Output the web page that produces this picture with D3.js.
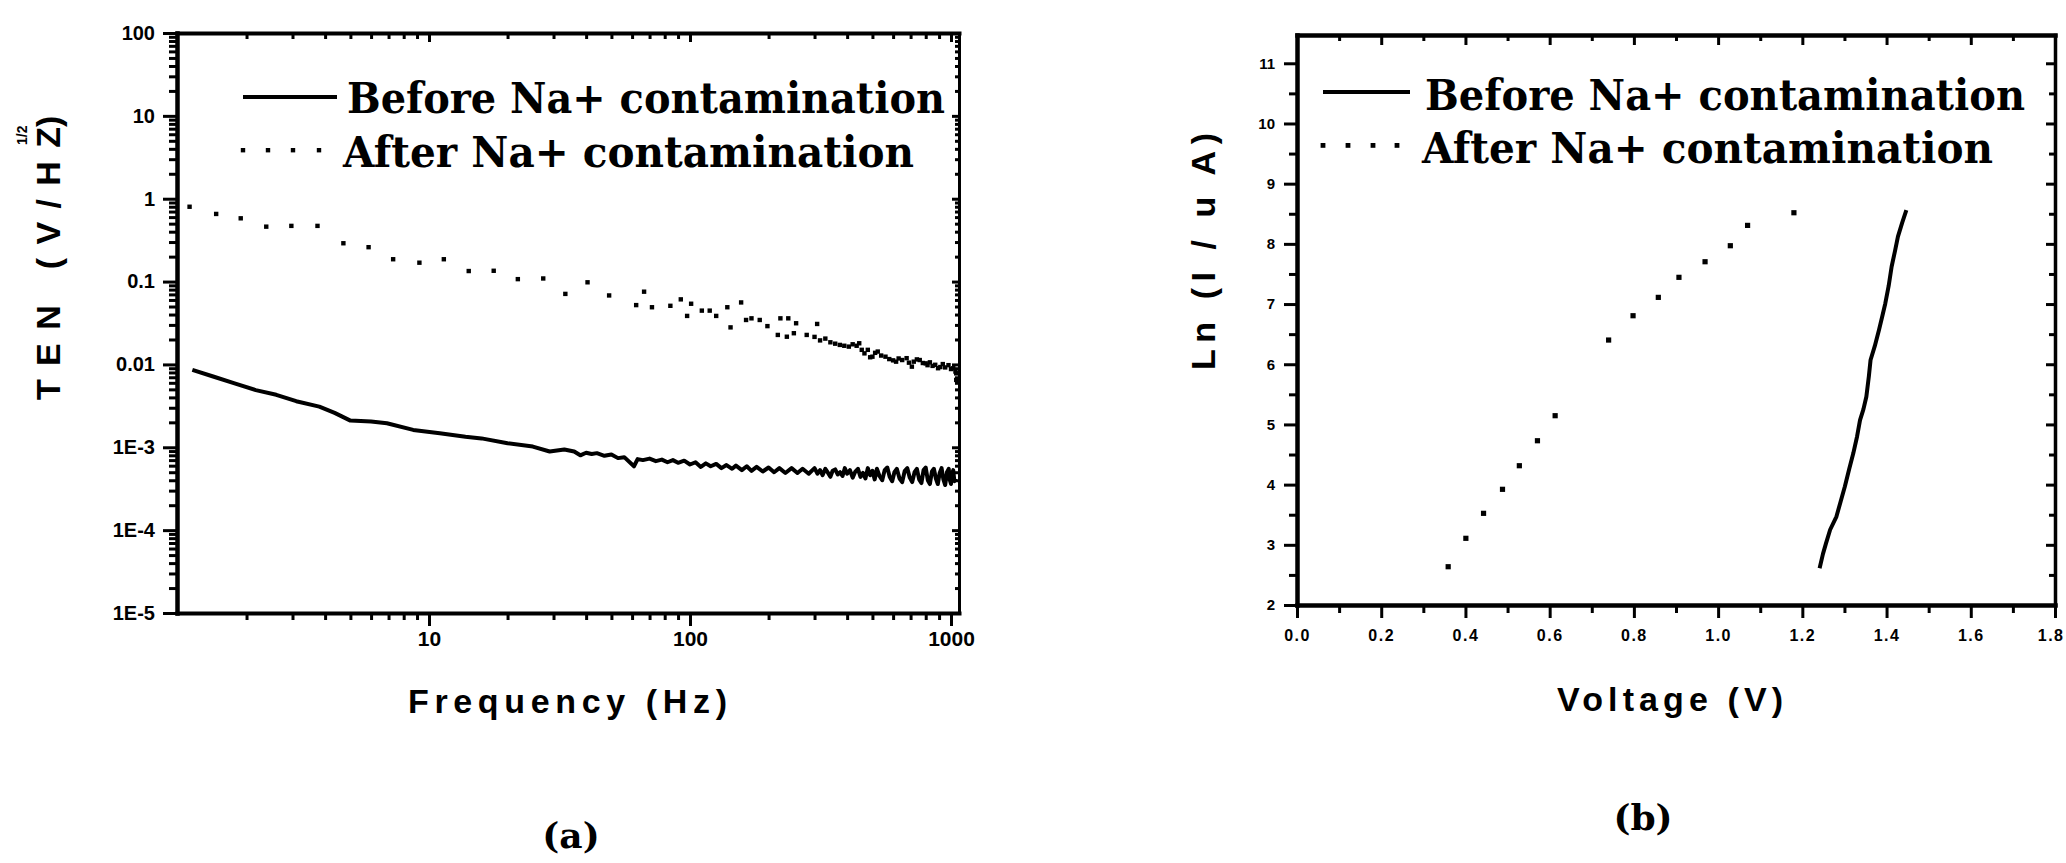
<!DOCTYPE html>
<html>
<head>
<meta charset="utf-8">
<script src="https://cdn.jsdelivr.net/npm/d3@7"></script>
<style>
  html, body { margin: 0; padding: 0; background: #fff; }
  svg { display: block; }
</style>
</head>
<body>
<svg id="fig" width="2066" height="863"></svg>
<script>
// ---------- data ----------
const legendLabels = ["Before Na+ contamination", "After Na+ contamination"];

// (a) total equivalent noise vs frequency, [Hz, V/Hz^1/2]
const tenBefore = [
  [1.24, 8.6e-3], [1.5, 7.1e-3], [1.8, 5.9e-3], [2.17, 4.9e-3], [2.6, 4.3e-3],
  [3.1, 3.6e-3], [3.8, 3.1e-3], [4.35, 2.6e-3], [5.0, 2.1e-3], [6.0, 2.05e-3],
  [6.9, 1.95e-3], [8.7, 1.62e-3], [11.0, 1.48e-3], [13.8, 1.34e-3], [15.9, 1.28e-3],
  [20, 1.12e-3], [25, 1.02e-3], [29, 8.9e-4], [33, 9.4e-4], [36, 8.9e-4],
  [38, 8.0e-4], [40, 8.6e-4], [42, 8.3e-4], [44, 8.5e-4], [47, 7.9e-4],
  [50, 8.2e-4], [53, 7.4e-4], [56, 7.6e-4], [61, 5.9e-4], [63, 7.2e-4],
  [66, 7.0e-4], [70, 7.3e-4], [74, 6.8e-4], [78, 7.1e-4], [82, 6.6e-4],
  [86, 7.0e-4], [90, 6.5e-4], [95, 6.9e-4], [100, 6.2e-4], [105, 6.6e-4],
  [110, 5.8e-4], [115, 6.4e-4], [120, 5.9e-4], [126, 6.3e-4], [132, 5.6e-4],
  [138, 6.1e-4], [145, 5.5e-4], [150, 6.0e-4], [158, 5.3e-4], [165, 5.9e-4],
  [172, 5.2e-4], [180, 5.8e-4], [190, 5.1e-4], [200, 5.7e-4], [210, 5.0e-4],
  [220, 5.6e-4], [232, 4.9e-4], [245, 5.6e-4], [258, 4.9e-4], [270, 5.5e-4],
  [285, 4.8e-4], [300, 5.6e-4], [308, 4.8e-4], [315, 5.3e-4], [322, 4.6e-4],
  [330, 5.5e-4], [338, 4.9e-4], [345, 4.4e-4], [352, 5.2e-4], [360, 5.4e-4],
  [368, 4.7e-4], [376, 5.0e-4], [384, 4.5e-4], [392, 5.6e-4], [400, 4.8e-4],
  [410, 5.3e-4], [420, 4.3e-4], [430, 5.1e-4], [440, 5.5e-4], [450, 4.4e-4],
  [460, 4.9e-4], [470, 4.2e-4], [480, 5.6e-4], [490, 4.6e-4], [500, 5.2e-4],
  [510, 4.1e-4], [520, 5.5e-4], [532, 4.5e-4], [545, 4.0e-4], [557, 5.3e-4],
  [570, 5.7e-4], [582, 4.4e-4], [595, 3.9e-4], [607, 5.0e-4], [620, 5.5e-4],
  [635, 4.2e-4], [650, 3.8e-4], [665, 5.2e-4], [680, 5.6e-4], [695, 4.3e-4],
  [710, 3.8e-4], [725, 5.0e-4], [740, 5.5e-4], [755, 4.1e-4], [770, 3.7e-4],
  [785, 5.3e-4], [800, 5.7e-4], [815, 4.0e-4], [830, 3.6e-4], [845, 5.1e-4],
  [860, 5.5e-4], [875, 4.2e-4], [890, 3.6e-4], [905, 4.9e-4], [920, 5.6e-4],
  [935, 4.1e-4], [950, 3.5e-4], [965, 5.0e-4], [980, 5.5e-4], [990, 4.0e-4],
  [1000, 3.6e-4], [1010, 4.8e-4], [1020, 5.3e-4], [1030, 3.9e-4], [1040, 4.2e-4]
];
const tenAfter = [
  [1.21, 0.80], [1.53, 0.655], [1.90, 0.58], [2.38, 0.46], [2.97, 0.47],
  [3.74, 0.47], [4.70, 0.29], [5.87, 0.26], [7.29, 0.186], [9.19, 0.169],
  [11.4, 0.186], [14.2, 0.134], [17.7, 0.135], [21.9, 0.107], [27.4, 0.109],
  [33.3, 0.071], [40.5, 0.098], [49.0, 0.068], [62.2, 0.052], [66.7, 0.0755],
  [71.5, 0.049], [84.1, 0.051], [92.2, 0.061], [97.5, 0.0385], [101, 0.054],
  [111, 0.0446], [119, 0.0446], [126, 0.0385], [139, 0.049], [143, 0.028],
  [157, 0.056], [164, 0.0344], [172, 0.036], [185, 0.0344], [198, 0.029],
  [217, 0.0227], [222, 0.036], [235, 0.0216], [238, 0.036], [250, 0.0238],
  [255, 0.0314], [280, 0.0227], [300, 0.0215], [307, 0.0308], [315, 0.0195],
  [330, 0.0205], [345, 0.0185], [360, 0.0178], [375, 0.0172], [390, 0.0168],
  [406, 0.0164], [420, 0.0175], [435, 0.0168], [445, 0.0180], [455, 0.0150],
  [466, 0.0136], [480, 0.0150], [490, 0.0122], [500, 0.0124], [512, 0.0138],
  [524, 0.0143], [540, 0.0128], [561, 0.0124], [580, 0.0116], [600, 0.0112],
  [616, 0.0108], [630, 0.0118], [650, 0.0113], [676, 0.0119], [690, 0.0105],
  [708, 0.0094], [720, 0.0108], [740, 0.0115], [759, 0.0113], [780, 0.0104],
  [800, 0.0103], [813, 0.0098], [830, 0.0106], [850, 0.0096], [870, 0.0099],
  [892, 0.0090], [910, 0.0093], [930, 0.0101], [950, 0.0092], [978, 0.0098],
  [1000, 0.0088], [1020, 0.0090], [1040, 0.0082], [1047, 0.0078], [1047, 0.0065]
];
const freqTicks = [10, 100, 1000];
const freqTickLabels = ["10", "100", "1000"];
const tenTicks = [100, 10, 1, 0.1, 0.01, 1e-3, 1e-4, 1e-5];
const tenTickLabels = ["100", "10", "1", "0.1", "0.01", "1E-3", "1E-4", "1E-5"];

// (b) ln(I) vs voltage, [V, ln(I/uA)]
const ivBefore = [
  [1.241, 2.61], [1.249, 2.85], [1.256, 3.02], [1.266, 3.25], [1.281, 3.47],
  [1.291, 3.72], [1.301, 3.97], [1.311, 4.25], [1.321, 4.52], [1.330, 4.80],
  [1.337, 5.07], [1.345, 5.25], [1.352, 5.46], [1.358, 5.80], [1.362, 6.07],
  [1.372, 6.30], [1.382, 6.57], [1.390, 6.80], [1.397, 7.01], [1.405, 7.30],
  [1.412, 7.62], [1.420, 7.88], [1.427, 8.12], [1.437, 8.35], [1.447, 8.56]
];
const ivAfter = [
  [0.359, 2.636], [0.401, 3.108], [0.443, 3.523], [0.488, 3.922], [0.528, 4.314],
  [0.571, 4.729], [0.613, 5.145], [0.740, 6.402], [0.798, 6.806], [0.858, 7.111],
  [0.907, 7.444], [0.969, 7.703], [1.029, 7.969], [1.070, 8.307], [1.180, 8.517]
];
const voltTicks = [0, 0.2, 0.4, 0.6, 0.8, 1.0, 1.2, 1.4, 1.6, 1.8];
const voltTickLabels = ["0.0", "0.2", "0.4", "0.6", "0.8", "1.0", "1.2", "1.4", "1.6", "1.8"];
const lnTicks = [2, 3, 4, 5, 6, 7, 8, 9, 10, 11];
const lnTickLabels = ["2", "3", "4", "5", "6", "7", "8", "9", "10", "11"];

// ---------- drawing ----------
const svg = d3.select("#fig");
svg.append("rect").attr("width", 2066).attr("height", 863).attr("fill", "#fff");

const SANS = "'Liberation Sans', Arial, sans-serif";
const SERIF = "'DejaVu Serif', 'Liberation Serif', serif";

function finishAxis(g, domainWidth, fontSize) {
  g.attr("font-family", SANS).attr("font-size", fontSize).attr("font-weight", "bold");
  g.select(".domain").attr("stroke", "#000").attr("stroke-width", domainWidth)
    .attr("stroke-linecap", "square");
  g.selectAll(".tick line").attr("stroke", "#000").attr("stroke-width", 3);
  g.selectAll(".tick text").attr("fill", "#000");
  return g;
}
function ticksOnly(g) { g.select(".domain").remove(); return g; }

// ===== panel (a) =====
const xA = d3.scaleLog().domain([1.083, 1073]).range([177, 959]);
const yA = d3.scaleLog().domain([1e-5, 100]).range([613, 33]);
const isDecade = v => Math.abs(Math.log10(v) - Math.round(Math.log10(v))) < 1e-9;
const xAminor = xA.ticks().filter(v => !isDecade(v));
const yAminor = yA.ticks().filter(v => !isDecade(v));

const gA = svg.append("g");

// minor ticks
ticksOnly(finishAxis(gA.append("g").attr("transform", "translate(0,613)")
  .call(d3.axisBottom(xA).tickValues(xAminor).tickSize(7).tickFormat("")), 0, 10));
ticksOnly(finishAxis(gA.append("g").attr("transform", "translate(0,33)")
  .call(d3.axisTop(xA).tickValues(xAminor).tickSize(-6).tickFormat("")), 0, 10));
ticksOnly(finishAxis(gA.append("g").attr("transform", "translate(177,0)")
  .call(d3.axisLeft(yA).tickValues(yAminor).tickSize(8).tickFormat("")), 0, 10));
ticksOnly(finishAxis(gA.append("g").attr("transform", "translate(959,0)")
  .call(d3.axisRight(yA).tickValues(yAminor).tickSize(-4).tickFormat("")), 0, 10));

// major ticks + frame
finishAxis(gA.append("g").attr("transform", "translate(0,613)")
  .call(d3.axisBottom(xA).tickValues(freqTicks).tickSize(13).tickSizeOuter(0)
    .tickPadding(5).tickFormat((d, i) => freqTickLabels[i])), 4, 21);
finishAxis(gA.append("g").attr("transform", "translate(0,33)")
  .call(d3.axisTop(xA).tickValues(freqTicks).tickSize(-9).tickSizeOuter(0).tickFormat("")), 4, 10);
finishAxis(gA.append("g").attr("transform", "translate(177,0)")
  .call(d3.axisLeft(yA).tickValues(tenTicks).tickSize(14).tickSizeOuter(0)
    .tickPadding(8).tickFormat((d, i) => tenTickLabels[i])), 4.5, 20);
finishAxis(gA.append("g").attr("transform", "translate(959,0)")
  .call(d3.axisRight(yA).tickValues(tenTicks).tickSize(-7).tickSizeOuter(0).tickFormat("")), 3, 10);

// series
gA.append("path").datum(tenBefore)
  .attr("d", d3.line().x(d => xA(d[0])).y(d => yA(d[1])))
  .attr("fill", "none").attr("stroke", "#000").attr("stroke-width", 4)
  .attr("stroke-linejoin", "round");
gA.append("g").selectAll("rect").data(tenAfter).join("rect")
  .attr("x", d => xA(d[0]) - 2.2).attr("y", d => yA(d[1]) - 2.2)
  .attr("width", 4.4).attr("height", 4.4).attr("fill", "#000");

// legend
const legA = gA.append("g");
legA.append("line").attr("x1", 243).attr("x2", 337).attr("y1", 97).attr("y2", 97)
  .attr("stroke", "#000").attr("stroke-width", 4);
legA.append("g").selectAll("rect").data([243, 268, 293, 319]).join("rect")
  .attr("x", d => d - 2.2).attr("y", 148).attr("width", 4.4).attr("height", 4.4).attr("fill", "#000");
legA.append("text").attr("x", 347).attr("y", 113).text(legendLabels[0])
  .attr("textLength", 598).attr("lengthAdjust", "spacingAndGlyphs");
legA.append("text").attr("x", 343).attr("y", 167).text(legendLabels[1])
  .attr("textLength", 571).attr("lengthAdjust", "spacingAndGlyphs");
legA.selectAll("text").attr("font-family", SERIF).attr("font-weight", "bold")
  .attr("font-size", 42).attr("fill", "#000");

// axis titles
gA.append("text").attr("x", 408).attr("y", 713).text("Frequency (Hz)")
  .attr("textLength", 319).attr("lengthAdjust", "spacing")
  .attr("font-family", SANS).attr("font-weight", "bold").attr("font-size", 34);
const yTitleA = gA.append("g").attr("transform", "translate(60,0) rotate(-90)")
  .attr("font-family", SANS).attr("font-weight", "bold");
yTitleA.append("text").attr("x", -400).attr("y", 0).text("TEN (V/HZ")
  .attr("textLength", 273).attr("lengthAdjust", "spacing").attr("font-size", 34);
yTitleA.append("text").attr("x", -145).attr("y", -33).text("1/2").attr("font-size", 14);
yTitleA.append("text").attr("x", -127).attr("y", 0).text(")").attr("font-size", 34);

svg.append("text").attr("x", 571).attr("y", 848).attr("text-anchor", "middle")
  .text("(a)").attr("font-family", SERIF).attr("font-weight", "bold").attr("font-size", 36);

// ===== panel (b) =====
const xB = d3.scaleLinear().domain([0, 1.8]).range([1297, 2055]);
const yB = d3.scaleLinear().domain([2, 11.47]).range([605, 35]);
const xBminor = d3.range(0.1, 1.8, 0.2);
const yBminor = d3.range(2.5, 11.5, 1);

const gB = svg.append("g");
ticksOnly(finishAxis(gB.append("g").attr("transform", "translate(0,605)")
  .call(d3.axisBottom(xB).tickValues(xBminor).tickSize(8).tickFormat("")), 0, 10));
ticksOnly(finishAxis(gB.append("g").attr("transform", "translate(0,35)")
  .call(d3.axisTop(xB).tickValues(xBminor).tickSize(-6).tickFormat("")), 0, 10));
ticksOnly(finishAxis(gB.append("g").attr("transform", "translate(1297,0)")
  .call(d3.axisLeft(yB).tickValues(yBminor).tickSize(8).tickFormat("")), 0, 10));
ticksOnly(finishAxis(gB.append("g").attr("transform", "translate(2055,0)")
  .call(d3.axisRight(yB).tickValues(yBminor).tickSize(-6).tickFormat("")), 0, 10));

const xAxisB = finishAxis(gB.append("g").attr("transform", "translate(0,605)")
  .call(d3.axisBottom(xB).tickValues(voltTicks).tickSize(13).tickSizeOuter(0)
    .tickPadding(12).tickFormat((d, i) => voltTickLabels[i])), 4.5, 16);
xAxisB.selectAll(".tick text").attr("letter-spacing", 1.5);
// keep the last label inside the page edge
xAxisB.selectAll(".tick text").filter((d, i, n) => i === n.length - 1)
  .attr("text-anchor", "end").attr("x", 9);
finishAxis(gB.append("g").attr("transform", "translate(0,35)")
  .call(d3.axisTop(xB).tickValues(voltTicks).tickSize(-10).tickSizeOuter(0).tickFormat("")), 4.5, 10);
finishAxis(gB.append("g").attr("transform", "translate(1297,0)")
  .call(d3.axisLeft(yB).tickValues(lnTicks).tickSize(13).tickSizeOuter(0)
    .tickPadding(9).tickFormat((d, i) => lnTickLabels[i])), 4.5, 15);
finishAxis(gB.append("g").attr("transform", "translate(2055,0)")
  .call(d3.axisRight(yB).tickValues(lnTicks).tickSize(-9).tickSizeOuter(0).tickFormat("")), 3.5, 10);

gB.append("path").datum(ivBefore)
  .attr("d", d3.line().x(d => xB(d[0])).y(d => yB(d[1])))
  .attr("fill", "none").attr("stroke", "#000").attr("stroke-width", 4)
  .attr("stroke-linejoin", "round");
gB.append("g").selectAll("rect").data(ivAfter).join("rect")
  .attr("x", d => xB(d[0]) - 2.6).attr("y", d => yB(d[1]) - 2.6)
  .attr("width", 5.2).attr("height", 5.2).attr("fill", "#000");

const legB = gB.append("g");
legB.append("line").attr("x1", 1323).attr("x2", 1410).attr("y1", 92).attr("y2", 92)
  .attr("stroke", "#000").attr("stroke-width", 4);
legB.append("g").selectAll("rect").data([1323, 1348, 1373, 1397]).join("rect")
  .attr("x", d => d - 2.4).attr("y", 143).attr("width", 4.8).attr("height", 4.8).attr("fill", "#000");
legB.append("text").attr("x", 1425).attr("y", 110).text(legendLabels[0])
  .attr("textLength", 600).attr("lengthAdjust", "spacingAndGlyphs");
legB.append("text").attr("x", 1422).attr("y", 163).text(legendLabels[1])
  .attr("textLength", 571).attr("lengthAdjust", "spacingAndGlyphs");
legB.selectAll("text").attr("font-family", SERIF).attr("font-weight", "bold")
  .attr("font-size", 42).attr("fill", "#000");

gB.append("text").attr("x", 1557).attr("y", 711).text("Voltage (V)")
  .attr("textLength", 226).attr("lengthAdjust", "spacing")
  .attr("font-family", SANS).attr("font-weight", "bold").attr("font-size", 34);
gB.append("g").attr("transform", "translate(1215,0) rotate(-90)")
  .append("text").attr("x", -370).attr("y", 0).text("Ln (I / u A)")
  .attr("textLength", 237).attr("lengthAdjust", "spacing")
  .attr("font-family", SANS).attr("font-weight", "bold").attr("font-size", 34);

svg.append("text").attr("x", 1643).attr("y", 830).attr("text-anchor", "middle")
  .text("(b)").attr("font-family", SERIF).attr("font-weight", "bold").attr("font-size", 36);
</script>
</body>
</html>
